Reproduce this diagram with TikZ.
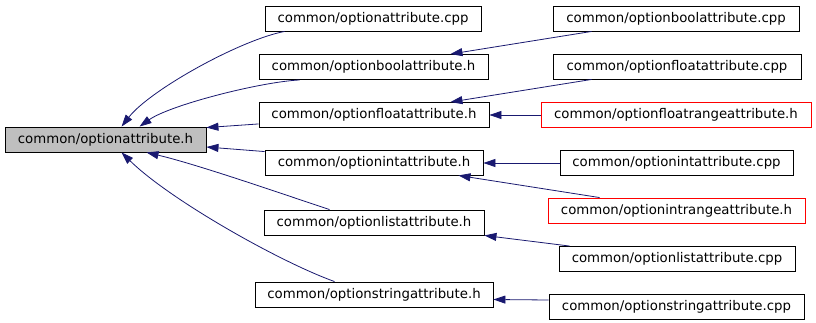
\documentclass[tikz,border=0pt]{standalone}
\usepackage{fontspec}
\setmainfont{DejaVu Sans}
\usetikzlibrary{arrows.meta,calc}
\definecolor{edgeblue}{HTML}{191970}
\definecolor{hdrgrey}{HTML}{BFBFBF}
\tikzset{
  file/.style={draw=black, line width=0.9pt, inner sep=0pt, minimum height=25pt,
    font=\fontsize{13.3}{16}\selectfont},
  mainfile/.style={file, fill=hdrgrey},
  missing/.style={file, draw=red},
  dep/.style={draw=edgeblue, line width=0.8pt,
    -{Triangle[length=12pt,width=8pt]}},
}
\begin{document}
\begin{tikzpicture}[x=1pt,y=-1pt]
\useasboundingbox (0,0) rectangle (816,323);
\fill[white] (0,0) rectangle (816,323);

% the attribute header and the files that include it
\node[mainfile, minimum width=201pt] (main)   at (105.5,139.5) {common/optionattribute.h};
\node[file, minimum width=216pt] (attrcpp)    at (373,18.5)  {common/optionattribute.cpp};
\node[file, minimum width=229pt] (boolh)      at (373.5,67)  {common/optionboolattribute.h};
\node[file, minimum width=230pt] (floath)     at (374,115)   {common/optionfloatattribute.h};
\node[file, minimum width=218pt] (inth)       at (374,162.5) {common/optionintattribute.h};
\node[file, minimum width=220pt] (listh)      at (374,222.5) {common/optionlistattribute.h};
\node[file, minimum width=238pt] (stringh)    at (374,294.5) {common/optionstringattribute.h};

% third level
\node[file, minimum width=246pt] (boolcpp)    at (676,18.5)  {common/optionboolattribute.cpp};
\node[file, minimum width=248pt] (floatcpp)   at (677,66.5)  {common/optionfloatattribute.cpp};
\node[missing, minimum width=270pt] (floatrange) at (676,115) {common/optionfloatrangeattribute.h};
\node[file, minimum width=233pt] (intcpp)     at (676.5,163) {common/optionintattribute.cpp};
\node[missing, minimum width=257pt] (intrange) at (676.5,210.5) {common/optionintrangeattribute.h};
\node[file, minimum width=236pt] (listcpp)    at (677,259)   {common/optionlistattribute.cpp};
\node[file, minimum width=255pt] (stringcpp)  at (676.5,306.5) {common/optionstringattribute.cpp};

% includes of optionattribute.h
\draw[dep] ($(attrcpp.south west)+(20,0)$) .. controls (240,40) and (150,90) .. ($(main.north west)+(117,0)$);
\draw[dep] ($(boolh.south west)+(41,0)$) .. controls (260,82) and (170,105) .. ($(main.north west)+(135,0)$);
\draw[dep] ($(floath.south west)+(0,-4)$) -- ($(main.north east)+(0,1)$);
\draw[dep] ($(inth.north west)+(0,2)$) -- ($(main.east)+(0,7.5)$);
\draw[dep] ($(listh.north west)+(66,0)$) .. controls (300,200) and (200,165) .. ($(main.south west)+(142,0)$);
\draw[dep] ($(stringh.north west)+(80,0)$) .. controls (280,262) and (170,200) .. ($(main.south west)+(117,0)$);

% includes of the derived headers
\draw[dep] ($(boolcpp.south west)+(39,0)$) -- ($(boolh.north east)+(-38,0)$);
\draw[dep] ($(floatcpp.south west)+(39,0)$) -- ($(floath.north east)+(-39,0)$);
\draw[dep] (floatrange.west) -- (floath.east);
\draw[dep] (intcpp.west) -- (inth.east |- intcpp.west);
\draw[dep] ($(intrange.north west)+(52,0)$) -- ($(inth.south east)+(-25,0)$);
\draw[dep] ($(listcpp.north west)+(11,0)$) -- (listh.south east);
\draw[dep] ($(stringcpp.west)+(0,-6.5)$) -- ($(stringh.east)+(0,5)$);
\end{tikzpicture}
\end{document}
